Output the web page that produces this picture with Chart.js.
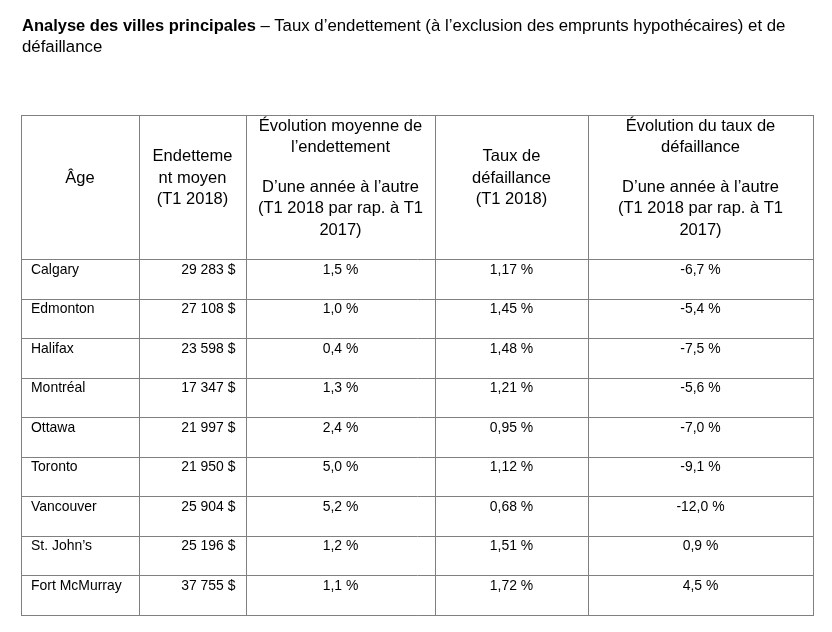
<!DOCTYPE html>
<html>
<head>
<meta charset="utf-8">
<script src="https://cdn.jsdelivr.net/npm/chart.js@4.4.1/dist/chart.umd.min.js"></script>
<style>
    html, body { margin: 0; padding: 0; background: #fff; }
    #wrap { position: relative; width: 832px; height: 632px; }
    #table-chart { position: absolute; left: 0; top: 0; }
    #title {
        position: absolute; left: 22px; top: 15px;
        font: 16.8px/21px "Liberation Sans", Arial, sans-serif; color: #000;
        white-space: nowrap;
    }
    #title b { font-size: 16.5px; }
</style>
</head>
<body>
<div id="wrap">
    <canvas id="table-chart" width="832" height="632"></canvas>
    <div id="title"><b>Analyse des villes principales</b> – Taux d’endettement (à l’exclusion des emprunts hypothécaires) et de<br>défaillance</div>
</div>
<script>
// --- DATA ---
const cities = ['Calgary', 'Edmonton', 'Halifax', 'Montréal', 'Ottawa', 'Toronto', 'Vancouver', 'St. John’s', 'Fort McMurray'];
const avgDebt = [29283, 27108, 23598, 17347, 21997, 21950, 25904, 25196, 37755];
const debtChange = [1.5, 1.0, 0.4, 1.3, 2.4, 5.0, 5.2, 1.2, 1.1];
const delinquencyRate = [1.17, 1.45, 1.48, 1.21, 0.95, 1.12, 0.68, 1.51, 1.72];
const delinquencyChange = [-6.7, -5.4, -7.5, -5.6, -7.0, -9.1, -12.0, 0.9, 4.5];

// header cells: list of paragraphs, each a list of lines
const headers = [
    [['Âge']],
    [['Endetteme', 'nt moyen', '(T1 2018)']],
    [['Évolution moyenne de', 'l’endettement'], ['D’une année à l’autre', '(T1 2018 par rap. à T1', '2017)']],
    [['Taux de', 'défaillance', '(T1 2018)']],
    [['Évolution du taux de', 'défaillance'], ['D’une année à l’autre', '(T1 2018 par rap. à T1', '2017)']]
];

// --- LAYOUT ---
const colWidths = [118, 107, 189, 153, 225];   // relative column widths
const headerUnits = 3.675;                     // header height in body-row units
const FONT = '"Liberation Sans", Arial, sans-serif';

const colEdges = colWidths.reduce((acc, w) => { acc.push(acc[acc.length - 1] + w); return acc; }, [0]);
const rowEdges = [0].concat(cities.map((c, i) => headerUnits + i), [headerUnits + cities.length]);

const fmtMoney = v => String(v).replace(/\B(?=(\d{3})+(?!\d))/g, ' ') + ' $';
const fmtPct = (v, d) => v.toFixed(d).replace('.', ',') + ' %';

// body text is a little condensed in the original
const SQUEEZE = 0.93;
function narrowText(ctx, text, px, py, align) {
    ctx.save();
    ctx.translate(px, py);
    ctx.scale(SQUEEZE, 1);
    ctx.textAlign = align;
    ctx.fillText(text, 0, 0);
    ctx.restore();
}

const tableText = {
    id: 'tableText',
    afterDraw(chart) {
        const { ctx, scales: { x, y } } = chart;
        ctx.save();
        ctx.fillStyle = '#000';
        ctx.textBaseline = 'alphabetic';

        // header
        ctx.font = '16.5px ' + FONT;
        ctx.textAlign = 'center';
        const lineH = 21.6, paraGap = 17.9;
        const mid = (y.getPixelForValue(0) + y.getPixelForValue(headerUnits)) / 2 - 4.8;
        headers.forEach((paras, c) => {
            const cx = (x.getPixelForValue(colEdges[c]) + x.getPixelForValue(colEdges[c + 1])) / 2;
            const offs = [];
            let pos = 0;
            paras.forEach((lines, p) => {
                if (p > 0) pos += paraGap;
                lines.forEach((l, i) => {
                    if (i > 0 || p > 0) pos += lineH;
                    offs.push([l, pos]);
                });
            });
            const shift = pos / 2;
            offs.forEach(([l, o]) => ctx.fillText(l, cx, mid + o - shift));
        });

        // body
        ctx.font = '15px ' + FONT;
        const cell = c => [x.getPixelForValue(colEdges[c]), x.getPixelForValue(colEdges[c + 1])];
        const centre = c => (cell(c)[0] + cell(c)[1]) / 2;
        cities.forEach((city, i) => {
            const base = y.getPixelForValue(headerUnits + i) + 14;
            narrowText(ctx, city, cell(0)[0] + 10, base, 'left');
            narrowText(ctx, fmtMoney(avgDebt[i]), cell(1)[1] - 10.5, base, 'right');
            narrowText(ctx, fmtPct(debtChange[i], 1), centre(2), base, 'center');
            narrowText(ctx, fmtPct(delinquencyRate[i], 2), centre(3), base, 'center');
            narrowText(ctx, fmtPct(delinquencyChange[i], 1), centre(4), base, 'center');
        });
        ctx.restore();
    }
};

const gridStyle = { color: '#808080', lineWidth: 1, drawTicks: false };

new Chart(document.getElementById('table-chart'), {
    type: 'scatter',
    data: { datasets: [] },
    options: {
        responsive: false,
        animation: false,
        devicePixelRatio: 1,
        layout: { padding: { left: 21, right: 19, top: 115, bottom: 17 } },
        plugins: { legend: { display: false }, tooltip: { enabled: false }, title: { display: false } },
        scales: {
            x: {
                type: 'linear',
                min: 0,
                max: colEdges[colEdges.length - 1],
                grid: gridStyle,
                border: { color: '#808080', width: 1 },
                ticks: { display: false },
                afterBuildTicks: s => { s.ticks = colEdges.map(v => ({ value: v })); }
            },
            y: {
                type: 'linear',
                reverse: true,
                min: 0,
                max: rowEdges[rowEdges.length - 1],
                grid: gridStyle,
                border: { color: '#808080', width: 1 },
                ticks: { display: false },
                afterBuildTicks: s => { s.ticks = rowEdges.map(v => ({ value: v })); }
            }
        }
    },
    plugins: [tableText]
});
</script>
</body>
</html>
